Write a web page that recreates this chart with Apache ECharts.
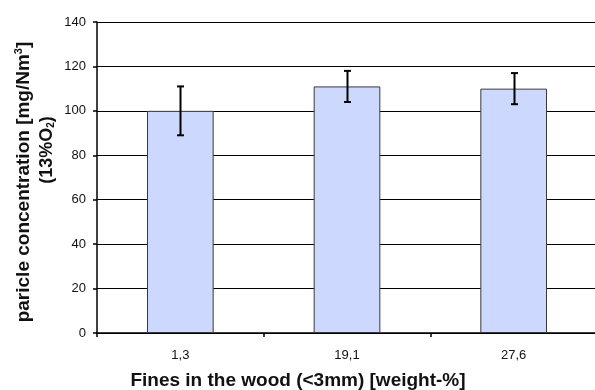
<!DOCTYPE html>
<html><head><meta charset="utf-8">
<script src="https://cdn.jsdelivr.net/npm/echarts@6/dist/echarts.min.js"></script>
<style>html,body{margin:0;padding:0;background:#fff;overflow:hidden}#c{width:595px;height:390px}</style>
</head><body><div id="c"></div>
<script>
const categories = ['1,3', '19,1', '27,6'];
const values = [100, 111, 110];
const errors = [11, 7, 7];
const yTicks = [0, 20, 40, 60, 80, 100, 120, 140];
const xTitle = 'Fines in the wood (<3mm) [weight-%]';

const FONT = '"Liberation Sans", Arial, sans-serif';
const chart = echarts.init(document.getElementById('c'), null, {renderer: 'canvas', width: 595, height: 390});
chart.setOption({
  animation: false,
  backgroundColor: '#fff',
  grid: {left: 97, top: 22, width: 500, height: 311, containLabel: false, outerBoundsMode: 'none'},
  xAxis: {
    type: 'category', data: categories, boundaryGap: true,
    axisLine: {lineStyle: {color: '#000', width: 1.5}},
    axisTick: {show: true, length: 4, inside: false, lineStyle: {color: '#000', width: 1.5}},
    axisLabel: {color: '#111', fontSize: 13, fontFamily: FONT, margin: 16}
  },
  yAxis: {
    type: 'value', min: yTicks[0], max: yTicks[yTicks.length - 1], interval: 20,
    axisLine: {show: true, lineStyle: {color: '#000', width: 1.5}},
    axisTick: {show: true, length: 4, lineStyle: {color: '#000', width: 1.5}},
    axisLabel: {color: '#111', fontSize: 13, fontFamily: FONT, margin: 11},
    splitLine: {show: true, lineStyle: {color: '#000', width: 1}}
  },
  graphic: [{
    type: 'text', x: 298, y: 381,
    style: {text: xTitle, align: 'center', verticalAlign: 'middle', fill: '#111',
      fontSize: 19, fontWeight: 'bold', fontFamily: FONT}
  }, {
    type: 'text', x: 24, y: 182, rotation: Math.PI / 2,
    style: {
      text: '{a|paricle concentration [mg/Nm}{sup|3}{a|]}',
      align: 'center', verticalAlign: 'middle', fill: '#111',
      rich: {
        a: {fontSize: 19, fontWeight: 'bold', fontFamily: FONT, fill: '#111'},
        sup: {fontSize: 11, fontWeight: 'bold', fontFamily: FONT, padding: [0, 0, 10, 0], fill: '#111'}
      }
    }
  }, {
    type: 'text', x: 47, y: 150, rotation: Math.PI / 2,
    style: {
      text: '{a|(13%O}{sub|2}{a|)}',
      align: 'center', verticalAlign: 'middle', fill: '#111',
      rich: {
        a: {fontSize: 18, fontWeight: 'bold', fontFamily: FONT, fill: '#111'},
        sub: {fontSize: 10, fontWeight: 'bold', fontFamily: FONT, padding: [8, 0, 0, 0], fill: '#111'}
      }
    }
  }],
  series: [{
    type: 'bar', data: values, barWidth: '40%',
    itemStyle: {color: '#ccd8fd', borderColor: '#3a3a3a', borderWidth: 1}
  }, {
    type: 'custom',
    data: values.map((v, i) => [i, v - errors[i], v + errors[i]]),
    renderItem: function (params, api) {
      const lo = api.coord([api.value(0), api.value(1)]);
      const hi = api.coord([api.value(0), api.value(2)]);
      const x = Math.round(lo[0]) + 0.5, w = 3.5;
      const st = {stroke: '#000', lineWidth: 2};
      return {type: 'group', children: [
        {type: 'line', shape: {x1: x, y1: lo[1], x2: x, y2: hi[1]}, style: st},
        {type: 'line', shape: {x1: x - w, y1: lo[1], x2: x + w, y2: lo[1]}, style: st},
        {type: 'line', shape: {x1: x - w, y1: hi[1], x2: x + w, y2: hi[1]}, style: st}
      ]};
    },
    z: 5
  }]
});
</script></body></html>
